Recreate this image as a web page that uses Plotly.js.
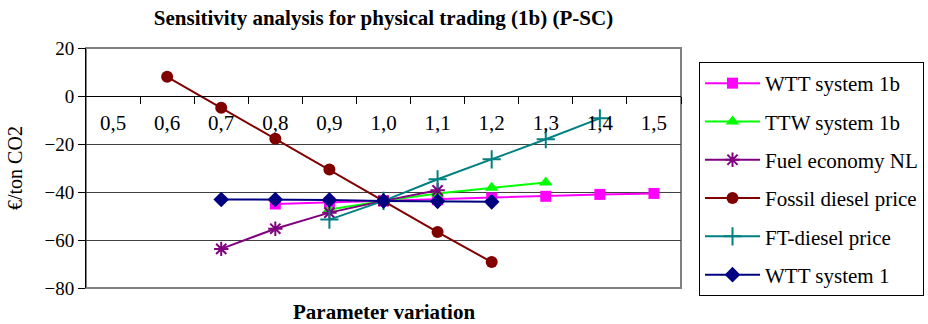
<!DOCTYPE html>
<html><head><meta charset="utf-8">
<script src="https://cdn.plot.ly/plotly-3.0.1.min.js"></script>
<style>html,body{margin:0;padding:0;background:#fff}#chart{width:928px;height:324px}</style>
</head><body><div id="chart"></div>
<script>
const categories = [0.5,0.6,0.7,0.8,0.9,1.0,1.1,1.2,1.3,1.4,1.5];
const tickLabels = ["0,5","0,6","0,7","0,8","0,9","1,0","1,1","1,2","1,3","1,4","1,5"];

const wtt1bX = [0.8,0.9,1.0,1.1,1.2,1.3,1.4,1.5];
const wtt1bY = [-45.0,-44.3,-43.7,-43.2,-42.5,-41.8,-41.0,-40.6];
const ttw1bX = [0.9,1.0,1.1,1.2,1.3];
const ttw1bY = [-47.3,-43.7,-40.6,-38.2,-36.0];
const fuelEcoX = [0.7,0.8,0.9,1.0,1.1];
const fuelEcoY = [-63.7,-55.3,-48.6,-43.7,-39.3];
const fossilX = [0.6,0.7,0.8,0.9,1.0,1.1,1.2];
const fossilY = [8.0,-4.9,-17.8,-30.6,-43.7,-56.7,-69.2];
const ftX = [0.9,1.0,1.1,1.2,1.3,1.4];
const ftY = [-51.5,-43.7,-34.7,-26.4,-18.0,-9.3];
const wtt1X = [0.7,0.8,0.9,1.0,1.1,1.2];
const wtt1Y = [-43.1,-43.1,-43.3,-43.7,-43.9,-44.1];

const seriesNames = ["WTT system 1b","TTW system 1b","Fuel economy NL","Fossil diesel price","FT-diesel price","WTT system 1"];

const FONT = "Liberation Serif";
const step = categories[1]-categories[0];
const boundaries = categories.map(c => +(c + step/2).toFixed(3));
const xRange = [categories[0]-step/2, categories[categories.length-1]+step/2];

function tr(i, x, y, color, symbol, size, open) {
  return {
    x: x, y: y, name: seriesNames[i], type: 'scatter', mode: 'lines+markers',
    legendgroup: 'g'+i,
    line: {color: color, width: 2},
    marker: open ? {symbol: symbol, size: size, color: color, line: {color: color, width: 2}}
                 : {symbol: symbol, size: size, color: color, line: {width: 0}},
    hoverinfo: 'x+y+name'
  };
}

const data = [
  tr(0, wtt1bX, wtt1bY, '#FF00FF', 'square', 11, false),
  tr(1, ttw1bX, ttw1bY, '#00FF00', 'triangle-up', 12, false),
  tr(2, fuelEcoX, fuelEcoY, '#800080', 'asterisk-open', 12, true),
  tr(3, fossilX, fossilY, '#800000', 'circle', 12, false),
  tr(4, ftX, ftY, '#008080', 'cross-thin-open', 13, true),
  tr(5, wtt1X, wtt1Y, '#000080', 'diamond', 12, false)
];

const layout = {
  width: 928, height: 324,
  margin: {l: 86, r: 247, t: 48, b: 36},
  paper_bgcolor: '#fff', plot_bgcolor: '#fff',
  font: {family: FONT, color: '#000'},
  showlegend: true,
  title: {text: '<b>Sensitivity analysis for physical trading (1b) (P-SC)</b>',
          font: {family: FONT, size: 21, color: '#000'},
          xref: 'paper', x: 0.5, xanchor: 'center', yref: 'container', y: 1 - 18/324, yanchor: 'middle'},
  xaxis: {
    range: xRange, anchor: 'free', position: 0.8,
    tickmode: 'array', tickvals: categories, ticktext: tickLabels,
    ticks: '', ticklabelstandoff: 8,
    minor: {tickmode: 'array', tickvals: boundaries, ticks: 'outside', ticklen: 7, tickcolor: '#000', tickwidth: 1, showgrid: false},
    tickfont: {family: FONT, size: 21, color: '#000'},
    showline: true, linecolor: '#000', linewidth: 1,
    showgrid: false, zeroline: false, fixedrange: true
  },
  yaxis: {
    range: [-80, 20], tickmode: 'linear', tick0: -80, dtick: 20,
    ticks: 'outside', ticklen: 7, tickcolor: '#000', tickwidth: 1,
    tickfont: {family: FONT, size: 19, color: '#000'},
    showline: true, linecolor: '#000', linewidth: 1,
    showgrid: true, gridcolor: '#404040', gridwidth: 1,
    zeroline: false, fixedrange: true
  },
  shapes: [{type: 'rect', xref: 'paper', yref: 'paper', x0: 0, x1: 1, y0: 0, y1: 1,
            line: {color: '#808080', width: 2}, layer: 'between'}],
  annotations: [
    {text: '<b>Parameter variation</b>', xref: 'paper', yref: 'paper', x: 0.5, y: -(312-288)/240,
     xanchor: 'center', yanchor: 'middle', showarrow: false, font: {family: FONT, size: 21, color: '#000'}},
    {text: '€/ton CO2', xref: 'paper', yref: 'paper', x: -(86-15)/595, y: 0.5, textangle: -90,
     xanchor: 'center', yanchor: 'middle', showarrow: false, font: {family: FONT, size: 20, color: '#000'}}
  ],
  legend: {
    xref: 'container', yref: 'container',
    x: 699/928, xanchor: 'left', y: 1 - 62/324, yanchor: 'top',
    maxheight: 250,
    bordercolor: '#000', borderwidth: 1, bgcolor: '#fff',
    font: {family: FONT, size: 21, color: '#000'},
    tracegroupgap: 8, traceorder: 'grouped', itemwidth: 55
  }
};

Plotly.newPlot('chart', data, layout, {displayModeBar: false, staticPlot: true});
</script></body></html>
